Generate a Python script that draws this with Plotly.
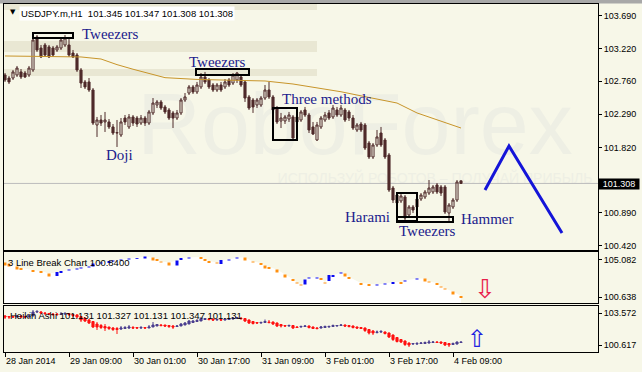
import plotly.graph_objects as go

W, H = 642, 372

# ---------------- data ----------------
tick_bars = [0, 16, 32, 48, 64, 80, 96, 112]
tick_labels = ["28 Jan 2014", "29 Jan 09:00", "30 Jan 01:00", "30 Jan 17:00",
               "31 Jan 09:00", "3 Feb 01:00", "3 Feb 17:00", "4 Feb 09:00"]

price_open = [
    102.848, 102.805, 102.805, 102.848, 102.891, 102.876, 102.848, 102.919, 103.388, 103.231,
    103.274, 103.246, 103.231, 103.203, 103.231, 103.274, 103.274, 103.160, 103.132, 102.919,
    102.749, 102.749, 102.635, 102.138, 102.209, 102.181, 102.181, 102.110, 102.024, 101.996,
    102.237, 102.110, 102.252, 102.237, 102.166, 102.237, 102.166, 102.309, 102.422, 102.465,
    102.394, 102.351, 102.309, 102.237, 102.309, 102.493, 102.592, 102.678, 102.607, 102.678,
    102.820, 102.777, 102.706, 102.635, 102.706, 102.678, 102.777, 102.734, 102.777, 102.820,
    102.749, 102.536, 102.493, 102.422, 102.422, 102.521, 102.635, 102.536, 102.379, 102.195,
    102.195, 102.223, 102.252, 102.181, 102.209, 102.351, 102.280, 102.110, 101.925, 102.110,
    102.209, 102.309, 102.252, 102.351, 102.280, 102.351, 102.323, 102.237, 102.067, 102.152,
    102.138, 101.882, 101.684, 101.854, 102.024, 101.925, 101.712, 101.243, 101.144, 101.059,
    101.116, 100.860, 100.974, 100.974, 101.087, 101.116, 101.172, 101.187, 101.286, 101.258,
    101.258, 100.888, 100.974, 101.073, 101.345]
price_high = [
    102.876, 102.834, 102.919, 102.976, 102.933, 102.905, 102.976, 103.416, 103.416, 103.274,
    103.302, 103.274, 103.260, 103.274, 103.373, 103.416, 103.388, 103.203, 103.160, 102.947,
    102.777, 102.805, 102.663, 102.252, 102.280, 102.323, 102.223, 102.152, 102.209, 102.237,
    102.280, 102.294, 102.280, 102.266, 102.280, 102.266, 102.351, 102.521, 102.493, 102.493,
    102.422, 102.379, 102.337, 102.351, 102.521, 102.592, 102.706, 102.706, 102.749, 102.876,
    102.891, 102.805, 102.734, 102.734, 102.749, 102.791, 102.805, 102.876, 102.891, 102.848,
    102.777, 102.564, 102.521, 102.521, 102.550, 102.706, 102.749, 102.564, 102.408, 102.309,
    102.280, 102.323, 102.280, 102.309, 102.351, 102.394, 102.309, 102.181, 102.181, 102.266,
    102.323, 102.351, 102.422, 102.394, 102.422, 102.379, 102.351, 102.280, 102.166, 102.181,
    102.166, 101.911, 101.882, 102.067, 102.110, 101.953, 101.740, 101.272, 101.172, 101.158,
    101.144, 101.002, 101.002, 101.130, 101.172, 101.215, 101.357, 101.286, 101.314, 101.286,
    101.286, 101.030, 101.101, 101.357, 101.347]
price_low = [
    102.749, 102.720, 102.777, 102.820, 102.791, 102.805, 102.820, 102.891, 103.175, 103.089,
    103.104, 103.089, 103.104, 103.175, 103.203, 103.246, 103.104, 103.089, 102.891, 102.663,
    102.649, 102.607, 102.138, 101.968, 102.124, 102.039, 102.081, 101.996, 101.826, 101.968,
    102.138, 102.081, 102.124, 102.110, 102.138, 102.124, 102.138, 102.280, 102.379, 102.351,
    102.294, 102.209, 102.095, 102.209, 102.280, 102.465, 102.564, 102.578, 102.578, 102.649,
    102.720, 102.649, 102.607, 102.607, 102.607, 102.649, 102.678, 102.706, 102.734, 102.678,
    102.465, 102.351, 102.309, 102.379, 102.394, 102.493, 102.507, 102.323, 102.152, 102.095,
    102.152, 102.181, 101.925, 102.152, 102.181, 102.252, 102.024, 101.996, 101.911, 102.081,
    102.181, 102.209, 102.223, 102.252, 102.252, 102.181, 102.195, 102.067, 102.039, 102.039,
    101.783, 101.655, 101.655, 101.826, 101.826, 101.655, 101.187, 101.030, 101.002, 101.030,
    100.775, 100.817, 100.888, 100.945, 101.059, 101.087, 101.144, 101.158, 101.158, 101.130,
    100.874, 100.761, 100.945, 101.045, 101.308]
price_close = [
    102.777, 102.749, 102.891, 102.947, 102.820, 102.820, 102.947, 103.345, 103.203, 103.104,
    103.132, 103.104, 103.132, 103.246, 103.345, 103.373, 103.132, 103.104, 102.919, 102.734,
    102.678, 102.635, 102.166, 102.209, 102.166, 102.209, 102.110, 102.024, 102.030, 102.181,
    102.181, 102.252, 102.166, 102.152, 102.237, 102.166, 102.323, 102.450, 102.465, 102.379,
    102.323, 102.237, 102.237, 102.309, 102.493, 102.536, 102.678, 102.607, 102.706, 102.820,
    102.749, 102.678, 102.635, 102.706, 102.635, 102.749, 102.706, 102.848, 102.876, 102.706,
    102.521, 102.379, 102.394, 102.493, 102.521, 102.635, 102.536, 102.351, 102.181, 102.237,
    102.252, 102.280, 101.953, 102.252, 102.323, 102.280, 102.067, 102.010, 102.138, 102.237,
    102.280, 102.237, 102.379, 102.280, 102.379, 102.209, 102.237, 102.095, 102.138, 102.067,
    101.811, 101.684, 101.854, 101.968, 101.854, 101.684, 101.215, 101.073, 101.030, 101.130,
    100.817, 100.974, 100.931, 101.087, 101.144, 101.187, 101.243, 101.258, 101.187, 101.172,
    100.903, 101.002, 101.073, 101.329, 101.308]

ma_bar = [0, 10, 19, 24, 28, 32, 40, 48, 56, 65, 72, 78, 84, 90, 98, 103, 108, 114]
ma_value = [103.118, 103.111, 103.104, 103.075, 102.995, 102.930, 102.810, 102.785, 102.778,
            102.763, 102.720, 102.663, 102.610, 102.540, 102.450, 102.309, 102.215, 102.095]

main_ticks = [103.690, 103.220, 102.760, 102.290, 101.820, 100.890, 100.420]

# 3 Line Break bricks
lb_bar = [0, 1, 3, 4, 7, 9, 11, 13, 14, 16, 18, 19, 21, 22, 24, 26, 27, 29, 31, 33, 35,
          37, 38, 39, 41, 43, 44, 46, 49, 50, 51, 53, 54, 56, 58, 60, 62, 64, 65, 66, 68,
          70, 72, 73, 74, 75, 76, 78, 79, 80, 81, 82, 84, 85, 86, 89, 91, 93, 95, 97, 99,
          100, 103, 105, 106, 108, 109, 110, 112, 114]
lb_open = [104.78, 104.66, 104.30, 104.12, 103.88, 103.76, 103.46, 103.16, 103.52, 103.82,
           103.94, 104.06, 104.18, 104.30, 104.66, 104.72, 104.90, 105.02, 105.14, 105.20,
           105.26, 105.38, 105.20, 104.90, 104.78, 104.42, 105.08, 105.26, 105.44, 105.20,
           104.96, 104.78, 104.60, 105.02, 105.26, 105.38, 104.90, 104.72, 104.42, 104.24,
           103.94, 103.34, 102.80, 102.38, 102.14, 102.14, 102.86, 102.86, 102.92, 102.38,
           102.56, 103.04, 103.46, 103.46, 103.04, 102.32, 102.20, 102.02, 102.14, 102.20,
           102.44, 102.50, 102.74, 102.86, 102.50, 102.32, 101.90, 101.66, 101.30, 100.76]
lb_close = [104.42, 104.30, 103.94, 103.88, 103.64, 103.52, 103.10, 103.64, 103.76, 103.94,
            104.06, 104.18, 104.30, 104.66, 104.78, 104.96, 105.02, 105.14, 105.26, 105.30,
            105.50, 105.02, 104.96, 104.78, 104.42, 105.02, 105.32, 105.38, 105.20, 104.96,
            104.72, 104.66, 105.08, 105.14, 105.38, 105.02, 104.78, 104.48, 104.06, 104.00,
            103.58, 102.98, 102.56, 102.26, 102.02, 102.74, 102.98, 102.98, 102.68, 102.26,
            103.28, 103.28, 103.58, 103.10, 102.80, 102.08, 101.96, 102.14, 102.26, 102.44,
            102.20, 102.62, 102.86, 102.50, 102.38, 102.08, 101.78, 101.54, 100.94, 100.52]
lb_ticks = [105.082, 100.638]

# Heikin Ashi
ha_open = [
    103.295, 103.249, 103.249, 103.202, 103.295, 103.249, 103.202, 103.295, 103.664, 103.664,
    103.572, 103.526, 103.479, 103.479, 103.433, 103.479, 103.526, 103.433, 103.387, 103.249,
    103.110, 102.925, 102.787, 102.556, 102.418, 102.325, 102.279, 102.187, 102.141, 102.094,
    102.141, 102.187, 102.233, 102.233, 102.187, 102.233, 102.187, 102.279, 102.371, 102.464,
    102.464, 102.418, 102.371, 102.325, 102.371, 102.464, 102.556, 102.695, 102.787, 102.833,
    102.972, 103.018, 103.018, 102.925, 102.972, 102.925, 102.972, 103.018, 103.064, 103.110,
    103.064, 102.925, 102.787, 102.695, 102.648, 102.695, 102.741, 102.741, 102.648, 102.510,
    102.418, 102.371, 102.418, 102.279, 102.279, 102.325, 102.371, 102.279, 102.187, 102.187,
    102.233, 102.279, 102.325, 102.371, 102.418, 102.464, 102.418, 102.371, 102.279, 102.233,
    102.187, 102.048, 101.910, 101.771, 101.817, 101.817, 101.725, 101.540, 101.310, 101.125,
    100.986, 100.802, 100.709, 100.709, 100.756, 100.756, 100.802, 100.848, 100.894, 100.894,
    100.848, 100.756, 100.663, 100.709, 100.848]
ha_close = [
    103.202, 103.202, 103.202, 103.295, 103.202, 103.202, 103.295, 103.664, 103.710, 103.572,
    103.526, 103.479, 103.433, 103.433, 103.479, 103.526, 103.433, 103.341, 103.202, 102.925,
    102.833, 102.648, 102.279, 102.279, 102.233, 102.187, 102.141, 102.048, 102.048, 102.187,
    102.233, 102.279, 102.187, 102.187, 102.233, 102.187, 102.279, 102.464, 102.510, 102.418,
    102.371, 102.325, 102.279, 102.371, 102.556, 102.648, 102.833, 102.833, 102.879, 103.064,
    103.064, 102.972, 102.925, 102.972, 102.925, 103.018, 103.018, 103.110, 103.156, 103.064,
    102.833, 102.648, 102.602, 102.648, 102.695, 102.787, 102.695, 102.556, 102.371, 102.371,
    102.371, 102.418, 102.187, 102.233, 102.325, 102.371, 102.233, 102.141, 102.141, 102.279,
    102.325, 102.325, 102.418, 102.418, 102.464, 102.371, 102.325, 102.233, 102.187, 102.141,
    101.956, 101.725, 101.725, 101.817, 101.864, 101.679, 101.356, 101.125, 100.940, 100.894,
    100.663, 100.617, 100.756, 100.756, 100.802, 100.848, 100.894, 100.894, 100.848, 100.802,
    100.617, 100.617, 100.756, 100.894, 100.894]
ha_high = [
    103.387, 103.295, 103.295, 103.387, 103.387, 103.295, 103.479, 103.849, 103.849, 103.756,
    103.664, 103.572, 103.572, 103.572, 103.664, 103.664, 103.572, 103.479, 103.479, 103.295,
    103.110, 103.018, 102.833, 102.741, 102.556, 102.556, 102.279, 102.279, 102.279, 102.371,
    102.371, 102.464, 102.371, 102.279, 102.371, 102.279, 102.464, 102.741, 102.556, 102.556,
    102.464, 102.464, 102.464, 102.464, 102.648, 102.741, 102.925, 102.925, 103.018, 103.202,
    103.110, 103.110, 103.064, 103.064, 103.018, 103.110, 103.110, 103.202, 103.202, 103.156,
    103.110, 102.972, 102.833, 102.741, 102.787, 102.972, 102.925, 102.787, 102.695, 102.556,
    102.464, 102.510, 102.464, 102.371, 102.418, 102.464, 102.418, 102.325, 102.279, 102.371,
    102.418, 102.418, 102.510, 102.464, 102.556, 102.510, 102.464, 102.418, 102.325, 102.279,
    102.233, 102.094, 102.002, 101.956, 102.002, 101.864, 101.771, 101.587, 101.356, 101.171,
    101.033, 100.848, 100.802, 100.894, 100.894, 100.940, 101.079, 100.986, 100.986, 100.940,
    100.894, 100.802, 100.848, 100.940, 100.894]
ha_low = [
    103.018, 103.018, 103.110, 103.202, 103.110, 103.110, 103.202, 103.295, 103.572, 103.479,
    103.387, 103.387, 103.295, 103.295, 103.387, 103.387, 103.295, 103.202, 103.110, 102.741,
    102.741, 102.556, 102.187, 102.002, 102.094, 101.910, 102.002, 101.910, 101.633, 102.002,
    102.094, 102.094, 102.094, 102.094, 102.094, 102.094, 102.187, 102.279, 102.371, 102.325,
    102.279, 102.187, 102.094, 102.279, 102.371, 102.464, 102.556, 102.695, 102.741, 102.833,
    102.925, 102.879, 102.833, 102.879, 102.833, 102.879, 102.925, 102.972, 103.018, 102.925,
    102.741, 102.556, 102.510, 102.556, 102.602, 102.648, 102.602, 102.464, 102.279, 102.233,
    102.279, 102.325, 102.094, 102.187, 102.233, 102.279, 102.141, 102.094, 102.048, 102.141,
    102.233, 102.233, 102.279, 102.325, 102.371, 102.279, 102.233, 102.141, 102.094, 102.094,
    101.817, 101.587, 101.540, 101.679, 101.725, 101.587, 101.263, 100.986, 100.848, 100.802,
    100.525, 100.432, 100.617, 100.617, 100.709, 100.709, 100.756, 100.802, 100.802, 100.709,
    100.525, 100.432, 100.617, 100.663, 100.802]
ha_ticks = [103.572, 100.617]

# ---------------- styling ----------------
BG = "#F7F7E8"
CANDLE = "#4F2A2A"
MA_COL = "#C8952A"
ORANGE = "#FF9010"
BLUE = "#0A0AF0"
HA_UP = "#4B3F8F"
HA_DN = "#FF1010"
TXT = "#20208C"
SANS = "Liberation Sans"
SERIF = "Liberation Serif"


def fx(px):
    return px / W


def fy(py):
    return 1 - py / H


bars = list(range(len(price_open)))

fig = go.Figure()

# main candles
fig.add_trace(go.Candlestick(
    x=bars, open=price_open, high=price_high, low=price_low, close=price_close,
    increasing=dict(line=dict(color=CANDLE, width=1), fillcolor=BG),
    decreasing=dict(line=dict(color=CANDLE, width=1), fillcolor=CANDLE),
    whiskerwidth=0, xaxis="x", yaxis="y", hoverinfo="skip"))

fig.add_trace(go.Scatter(x=ma_bar, y=ma_value, mode="lines",
                         line=dict(color=MA_COL, width=1), xaxis="x", yaxis="y",
                         hoverinfo="skip"))

# line break panel: white area below the bricks
lb_top = [max(o, c) for o, c in zip(lb_open, lb_close)]
fig.add_trace(go.Scatter(x=lb_bar, y=lb_top, mode="lines", line=dict(width=0),
                         fill="tozeroy", fillcolor="#FFFFFF", xaxis="x2", yaxis="y2",
                         hoverinfo="skip"))
for up, col in ((False, ORANGE), (True, BLUE)):
    xs, ys = [], []
    for b, o, c in zip(lb_bar, lb_open, lb_close):
        if (c > o) == up:
            xs += [b, b, None]
            ys += [o, c, None]
    fig.add_trace(go.Scatter(x=xs, y=ys, mode="lines", line=dict(color=col, width=3),
                             xaxis="x2", yaxis="y2", hoverinfo="skip"))

# Heikin Ashi panel
fig.add_trace(go.Candlestick(
    x=bars, open=ha_open, high=ha_high, low=ha_low, close=ha_close,
    increasing=dict(line=dict(color=HA_UP, width=1), fillcolor=HA_UP),
    decreasing=dict(line=dict(color=HA_DN, width=1), fillcolor=HA_DN),
    whiskerwidth=0, xaxis="x3", yaxis="y3", hoverinfo="skip"))

x_range = [-0.25, 148.25]
frame = dict(showline=True, mirror=True, linecolor="black", linewidth=1,
             showgrid=False, zeroline=False)
xdom = [fx(4), fx(598)]
ytick = dict(ticks="outside", ticklen=3, tickcolor="black", tickwidth=1,
             tickfont=dict(family=SANS, size=9, color="black"), side="right")

fig.update_layout(
    width=W, height=H, margin=dict(l=0, r=0, t=0, b=0),
    paper_bgcolor=BG, plot_bgcolor=BG, showlegend=False, hovermode=False,
    boxgap=0.25,
    xaxis=dict(domain=xdom, range=x_range, anchor="y", showticklabels=False,
               ticks="", rangeslider=dict(visible=False), **frame),
    yaxis=dict(domain=[fy(250), fy(4)], range=[100.363, 103.856], anchor="x",
               tickvals=main_ticks, ticktext=[f"{v:.3f}" for v in main_ticks],
               **ytick, **frame),
    xaxis2=dict(domain=xdom, range=x_range, anchor="y2", matches="x",
                showticklabels=False, ticks="", **frame),
    yaxis2=dict(domain=[fy(303), fy(252)], range=[99.918, 106.04], anchor="x2",
                tickvals=lb_ticks, ticktext=[f"{v:.3f}" for v in lb_ticks],
                **ytick, **frame),
    xaxis3=dict(domain=xdom, range=x_range, anchor="y3", matches="x",
                tickvals=tick_bars, ticktext=tick_labels, ticks="outside",
                ticklen=4, tickcolor="black", ticklabelposition="outside right",
                tickfont=dict(family=SANS, size=9, color="black"),
                rangeslider=dict(visible=False), **frame),
    yaxis3=dict(domain=[fy(352), fy(306)], range=[99.971, 104.218], anchor="x3",
                tickvals=ha_ticks, ticktext=[f"{v:.3f}" for v in ha_ticks],
                **ytick, **frame),
)

shapes = []
# top grey strip
shapes.append(dict(type="rect", xref="paper", yref="paper", x0=0, x1=1,
                   y0=fy(3.5), y1=1, fillcolor="#A8A8A8", line=dict(width=0), layer="below"))
# beige bands of the watermark logo
for (a, b) in [(4, 10), (41, 52), (69, 76)]:
    shapes.append(dict(type="rect", xref="paper", yref="paper", x0=fx(4), x1=fx(317),
                       y0=fy(b), y1=fy(a), fillcolor="#E9E7D3", line=dict(width=0),
                       layer="below"))
# watermark
shapes.append(dict(type="rect", xref="paper", yref="paper", x0=fx(140), x1=fx(570),
                   y0=fy(170), y1=fy(60), line=dict(width=0), fillcolor="rgba(0,0,0,0)",
                   layer="below",
                   label=dict(text="RoboForex", textposition="middle center",
                              font=dict(family=SANS, size=88, color="#EEEFE4"))))
shapes.append(dict(type="rect", xref="paper", yref="paper", x0=fx(290), x1=fx(580),
                   y0=fy(185), y1=fy(170), line=dict(width=0), fillcolor="rgba(0,0,0,0)",
                   layer="below",
                   label=dict(text="ИСПОЛЬЗУЙ РОБОТОВ – ПОЛУЧАЙ ПРИБЫЛЬ",
                              textposition="middle center",
                              font=dict(family=SANS, size=14, color="#EEEFE4"))))
# current price line
shapes.append(dict(type="line", xref="x", yref="y", x0=x_range[0], x1=x_range[1],
                   y0=price_close[-1], y1=price_close[-1],
                   line=dict(color="#BDBDBD", width=1), layer="below"))
# pattern boxes
for (a, b, c, d) in [(33, 33, 73, 38), (196, 69, 249, 75), (273, 108, 297, 140),
                     (397, 193, 417, 221), (397, 217, 453, 222)]:
    shapes.append(dict(type="rect", xref="paper", yref="paper", x0=fx(a), x1=fx(c),
                       y0=fy(d), y1=fy(b), line=dict(color="black", width=2)))
# forecast zig-zag
pts = [(485, 190), (509, 146), (562, 233)]
path = "M " + " L ".join(f"{fx(a):.5f},{fy(b):.5f}" for a, b in pts)
shapes.append(dict(type="path", xref="paper", yref="paper", path=path,
                   line=dict(color="#1414D8", width=3)))
fig.update_layout(shapes=shapes)

ann = []
for text, a, b in [("Tweezers", 80, 34), ("Tweezers", 187, 62), ("Three methods", 280, 99),
                   ("Doji", 104, 155), ("Harami", 343, 217), ("Tweezers", 397, 231),
                   ("Hammer", 459, 219)]:
    ann.append(dict(text=text, x=fx(a), y=fy(b), xref="paper", yref="paper",
                    xanchor="left", yanchor="middle", showarrow=False,
                    font=dict(family=SERIF, size=15, color=TXT)))
# title line
ann.append(dict(text="▼", x=fx(8), y=fy(12.5), xref="paper", yref="paper", xanchor="left",
                yanchor="middle", showarrow=False, font=dict(family="DejaVu Sans", size=7,
                                                             color="black")))
ann.append(dict(text="USDJPY.m,H1  101.345 101.347 101.308 101.308", x=fx(19), y=fy(13.5),
                xref="paper", yref="paper", xanchor="left", yanchor="middle",
                showarrow=False, bgcolor="#FFFFFF", borderpad=1,
                font=dict(family=SANS, size=9.5, color="black")))
ann.append(dict(text="3 Line Break Chart 100.8400", x=fx(6), y=fy(262), xref="paper",
                yref="paper", xanchor="left", yanchor="middle", showarrow=False,
                font=dict(family=SANS, size=9.5, color="black")))
ann.append(dict(text="Heikin Ashi 101.131 101.327 101.131 101.347 101.131", x=fx(8),
                y=fy(315), xref="paper", yref="paper", xanchor="left", yanchor="middle",
                showarrow=False, font=dict(family=SANS, size=9.5, color="black")))
# current price box
ann.append(dict(text=f"{price_close[-1]:.3f}", x=fx(598), y=fy(184), xref="paper",
                yref="paper", xanchor="left", yanchor="middle", showarrow=False,
                bgcolor="black", width=40, height=10, align="center", borderpad=0,
                font=dict(family=SANS, size=9, color="white")))
# arrows
ann.append(dict(text="⇩", x=fx(485), y=fy(289), xref="paper", yref="paper",
                xanchor="center", yanchor="middle", showarrow=False,
                font=dict(family="DejaVu Sans", size=26, color="#E8204A")))
ann.append(dict(text="⇧", x=fx(477), y=fy(339), xref="paper", yref="paper",
                xanchor="center", yanchor="middle", showarrow=False,
                font=dict(family="DejaVu Sans", size=24, color="#2020E0")))
fig.update_layout(annotations=ann)

fig.write_html("out.html")
